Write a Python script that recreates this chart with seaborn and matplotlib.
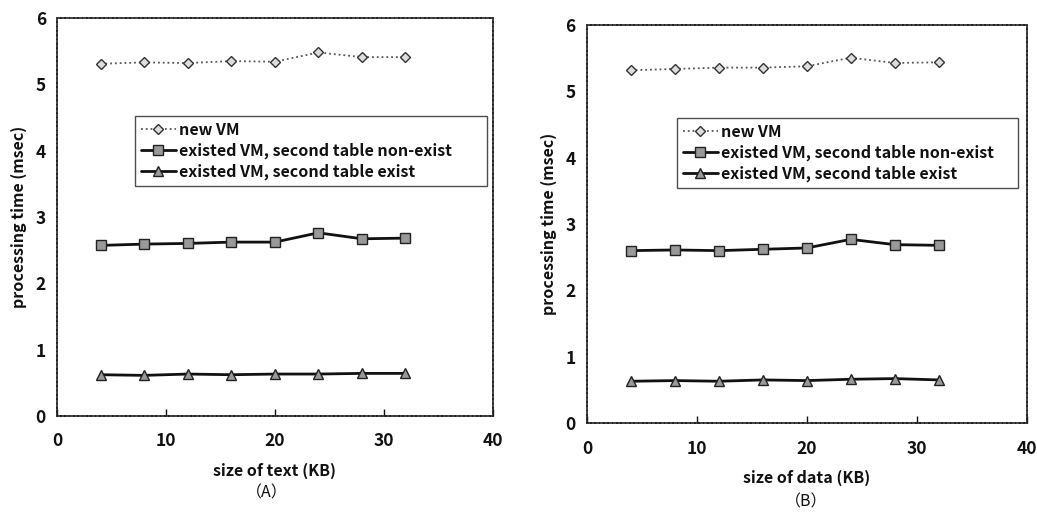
import matplotlib
matplotlib.use("Agg")
import matplotlib.pyplot as plt
import seaborn as sns
import pandas as pd

sizes_kb = [4, 8, 12, 16, 20, 24, 28, 32]
series_names = ["new VM", "existed VM, second table non-exist", "existed VM, second table exist"]

a_new_vm = [5.31, 5.33, 5.32, 5.35, 5.34, 5.48, 5.41, 5.41]
a_nonexist = [2.57, 2.59, 2.60, 2.62, 2.62, 2.76, 2.67, 2.68]
a_exist = [0.62, 0.61, 0.63, 0.62, 0.63, 0.63, 0.64, 0.64]

b_new_vm = [5.32, 5.34, 5.36, 5.36, 5.38, 5.51, 5.43, 5.44]
b_nonexist = [2.60, 2.61, 2.60, 2.62, 2.64, 2.77, 2.69, 2.68]
b_exist = [0.63, 0.64, 0.63, 0.65, 0.64, 0.66, 0.67, 0.65]

x_ticks = [0, 10, 20, 30, 40]
y_ticks = [0, 1, 2, 3, 4, 5, 6]

sns.set_theme(style="white")
plt.rcParams['font.family'] = ['Noto Sans CJK JP', 'DejaVu Sans']

fig = plt.figure(figsize=(10.37, 5.14), dpi=100)
axA = fig.add_axes([0.055, 0.191, 0.420, 0.774])
axB = fig.add_axes([0.566, 0.177, 0.424, 0.774])

styles = [
    dict(marker="D", linestyle=":", color="#555555", linewidth=1.3, markersize=5,
         markerfacecolor="#dddddd", markeredgecolor="#333333", markeredgewidth=1.0),
    dict(marker="s", linestyle="-", color="#111111", linewidth=2.0, markersize=6.5,
         markerfacecolor="#999999", markeredgecolor="#222222", markeredgewidth=1.0),
    dict(marker="^", linestyle="-", color="#111111", linewidth=2.0, markersize=7.5,
         markerfacecolor="#999999", markeredgecolor="#222222", markeredgewidth=1.0),
]

panels = [
    (axA, [a_new_vm, a_nonexist, a_exist], "size of text (KB)", "(A)", (135, 116, 487, 193)),
    (axB, [b_new_vm, b_nonexist, b_exist], "size of data (KB)", "(B)", (677, 118, 1018, 194)),
]

W, H = 1037, 514
for ax, vals, xlabel, cap, leg in panels:
    for name, v, st in zip(series_names, vals, styles):
        df = pd.DataFrame({"x": sizes_kb, "y": v})
        sns.lineplot(data=df, x="x", y="y", ax=ax, label=name, **st)
    ax.set_xlim(0, 40)
    ax.set_ylim(0, 6)
    ax.set_xticks(x_ticks)
    ax.set_yticks(y_ticks)
    ax.tick_params(axis="x", direction="in", length=5, width=1, colors="#111111",
                   labelsize=12.5, pad=12, bottom=True)
    ax.tick_params(axis="y", length=0, labelsize=12.5, pad=8, colors="#111111")
    for lab in ax.get_xticklabels() + ax.get_yticklabels():
        lab.set_fontweight("bold")
    for sp in ax.spines.values():
        sp.set_visible(True)
        sp.set_color("#222222")
        sp.set_linewidth(1.2)
        sp.set_linestyle((0, (2, 0.6)))
    ax.set_xlabel(xlabel, fontsize=11.5, fontweight="bold", labelpad=9, color="#111111")
    ax.set_ylabel("processing time (msec)", fontsize=11.5, fontweight="bold", labelpad=6, color="#111111")
    x0, y0, x1, y1 = leg
    bb = (x0 / W, 1 - y1 / H, (x1 - x0) / W, (y1 - y0) / H)
    lg = ax.legend(loc="upper left", bbox_to_anchor=bb, bbox_transform=fig.transFigure,
                   mode="expand", frameon=True, fancybox=False, fontsize=11.5,
                   handlelength=2.2, handletextpad=0.2, borderpad=0.35, labelspacing=0.3,
                   borderaxespad=0)
    lg.get_frame().set_edgecolor("#222222")
    lg.get_frame().set_linewidth(1.0)
    for t in lg.get_texts():
        t.set_fontweight("bold")
        t.set_color("#111111")

fig.text(267 / W, 1 - 493 / H, "（A）", ha="center", va="center", fontsize=11.5, color="#111111")
fig.text(806 / W, 1 - 502 / H, "（B）", ha="center", va="center", fontsize=11.5, color="#111111")

fig.savefig("out.png", dpi=100, facecolor="white")
